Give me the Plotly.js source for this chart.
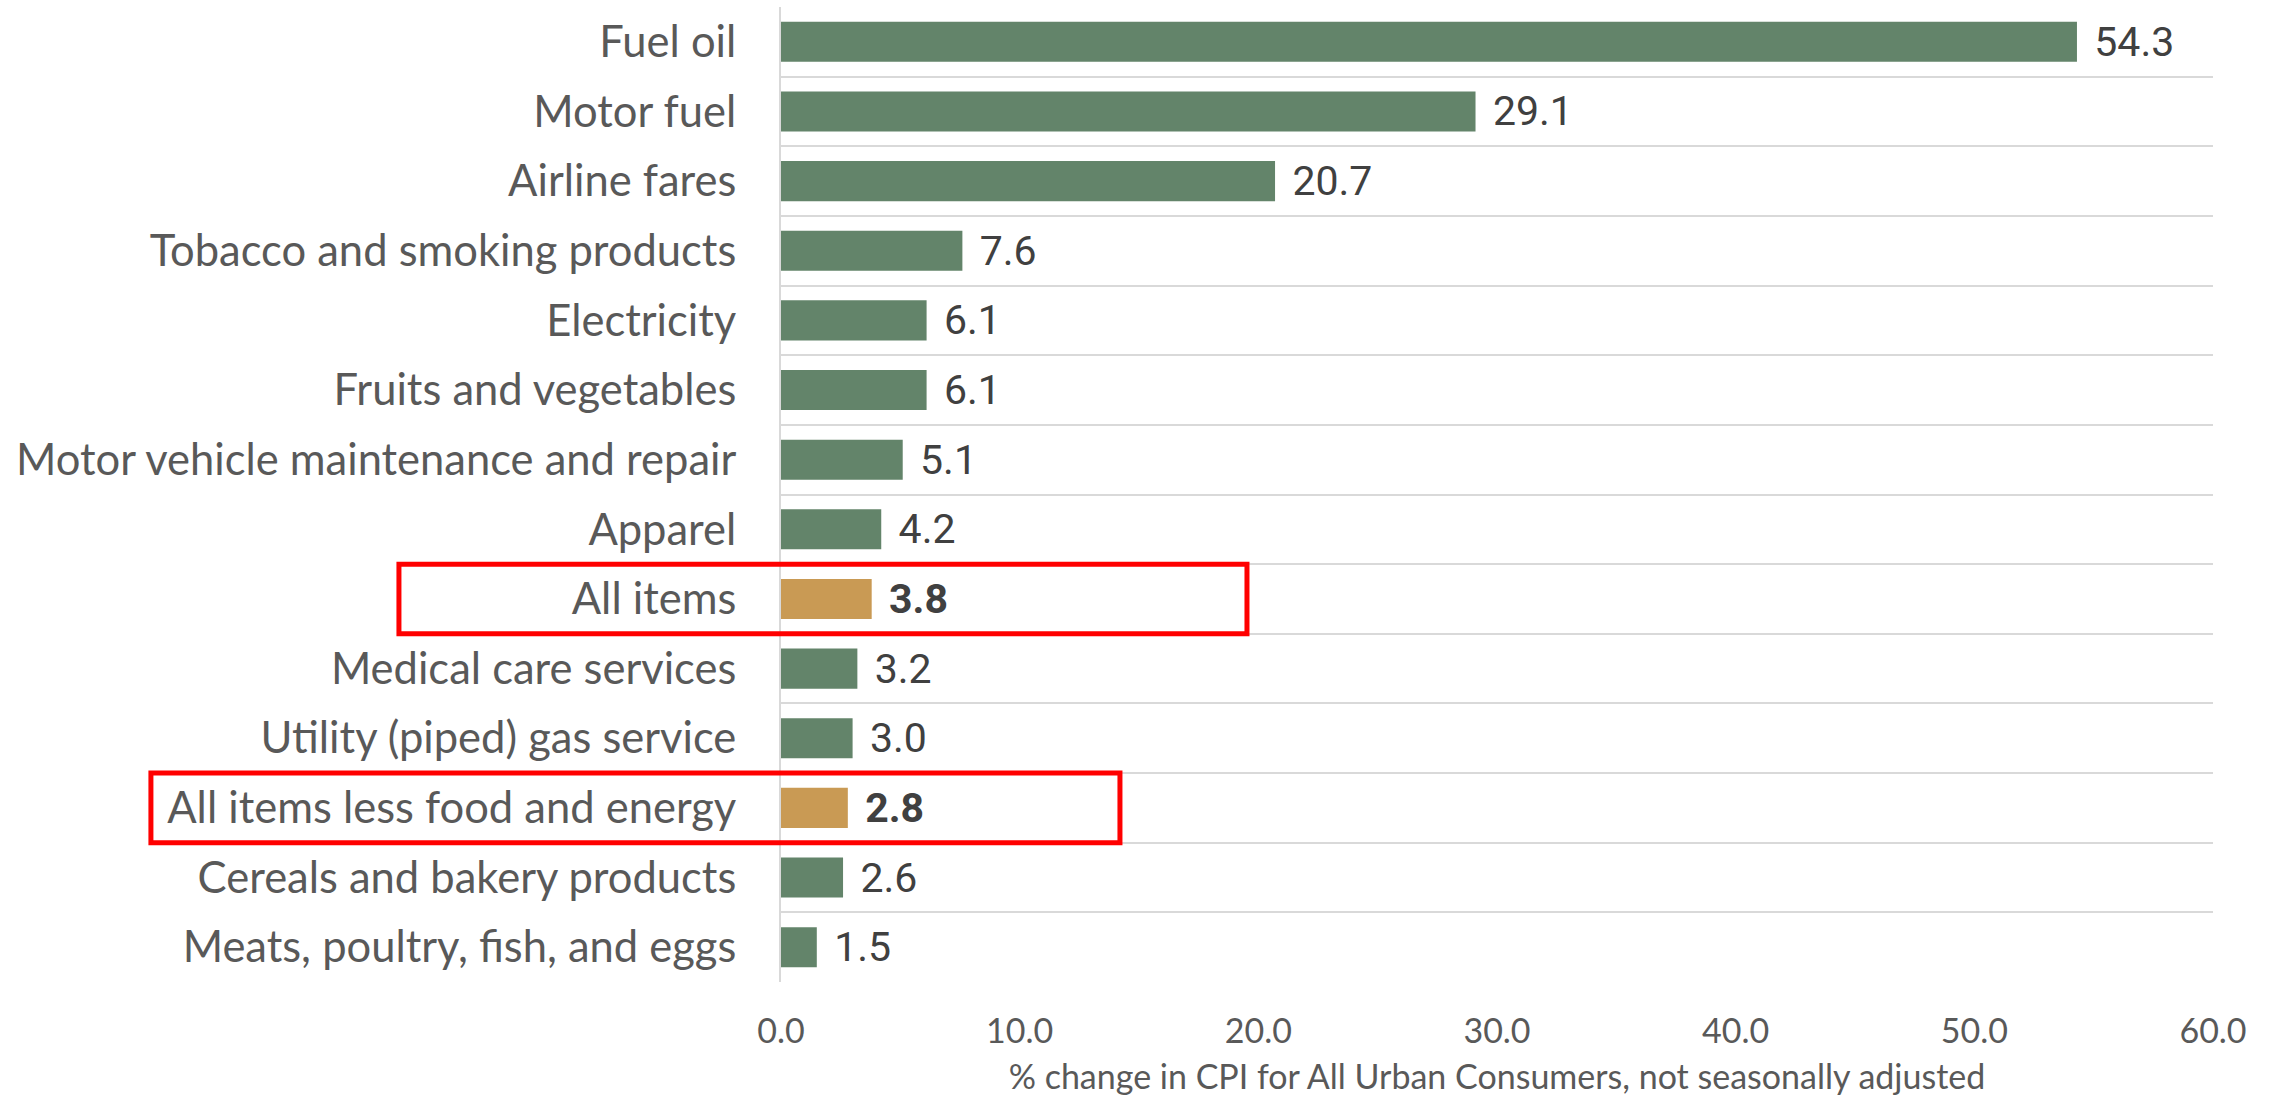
<!DOCTYPE html>
<html>
<head>
<meta charset="utf-8">
<script src="https://cdn.plot.ly/plotly-3.0.1.min.js"></script>
<style>html,body{margin:0;padding:0;background:#fff;}#chart{width:2272px;height:1101px;}</style>
</head>
<body>
<div id="chart"></div>
<script>
// Data (top to bottom as displayed)
const categories = [
  "Fuel oil",
  "Motor fuel",
  "Airline fares",
  "Tobacco and smoking products",
  "Electricity",
  "Fruits and vegetables",
  "Motor vehicle maintenance and repair",
  "Apparel",
  "All items",
  "Medical care services",
  "Utility (piped) gas service",
  "All items less food and energy",
  "Cereals and bakery products",
  "Meats, poultry, fish, and eggs"
];
const values = [54.3, 29.1, 20.7, 7.6, 6.1, 6.1, 5.1, 4.2, 3.8, 3.2, 3.0, 2.8, 2.6, 1.5];
const highlighted = ["All items", "All items less food and energy"];
const xTickValues = [0, 10, 20, 30, 40, 50, 60];
const xAxisTitle = "% change in CPI for All Urban Consumers, not seasonally adjusted";

// Styles
const GREEN = "#63846a";
const GOLD = "#c99a54";
const isHi = categories.map(c => highlighted.includes(c));
const colors = isHi.map(h => h ? GOLD : GREEN);
const texts = values.map((v, i) => "\u00a0\u200a" + (isHi[i] ? "<b>" + v.toFixed(1) + "</b>" : v.toFixed(1)));

const n = categories.length;
// red boxes around highlighted rows (horizontal extents in paper units)
const boxX = { "All items": [-0.2668, 0.3254], "All items less food and energy": [-0.4400, 0.2367] };
const shapes = highlighted.map(c => {
  const k = categories.indexOf(c);
  return {
    type: "rect", xref: "paper", yref: "paper",
    x0: boxX[c][0], x1: boxX[c][1],
    y0: 1 - (k + 1) / n, y1: 1 - k / n,
    line: { color: "#ff0000", width: 5 }, fillcolor: "rgba(0,0,0,0)"
  };
});

const trace = {
  type: "bar", orientation: "h",
  y: categories, x: values,
  marker: { color: colors },
  width: 0.575,
  text: texts, textposition: "outside", cliponaxis: false,
  constraintext: "none",
  textfont: { family: "Roboto, Arial, sans-serif", size: 41, color: "#404040" },
  hoverinfo: "none"
};

const layout = {
  width: 2272, height: 1101,
  margin: { l: 781, r: 59, t: 7, b: 119 },
  paper_bgcolor: "#fff", plot_bgcolor: "#fff",
  showlegend: false,
  font: { family: "Lato, sans-serif", color: "#595959" },
  xaxis: {
    range: [0, 60], tickvals: xTickValues, tickformat: ".1f",
    showgrid: false, zeroline: false, showline: false, ticks: "",
    ticklabelstandoff: 26,
    tickfont: { family: "Lato, sans-serif", size: 34, color: "#595959" },
    title: { text: xAxisTitle, standoff: 16, font: { family: "Lato, sans-serif", size: 34, color: "#595959" } },
    fixedrange: true
  },
  yaxis: {
    type: "category", categoryorder: "array", categoryarray: categories,
    autorange: "reversed",
    tickson: "boundaries", ticks: "",
    showgrid: true, gridcolor: "#d9d9d9", gridwidth: 2,
    showline: true, linecolor: "#d9d9d9", linewidth: 2,
    zeroline: false,
    ticklabelstandoff: 34,
    tickfont: { family: "Lato, sans-serif", size: 43.5, color: "#595959" },
    fixedrange: true
  },
  shapes: shapes
};

Plotly.newPlot("chart", [trace], layout, { displayModeBar: false, staticPlot: true });
</script>
</body>
</html>
